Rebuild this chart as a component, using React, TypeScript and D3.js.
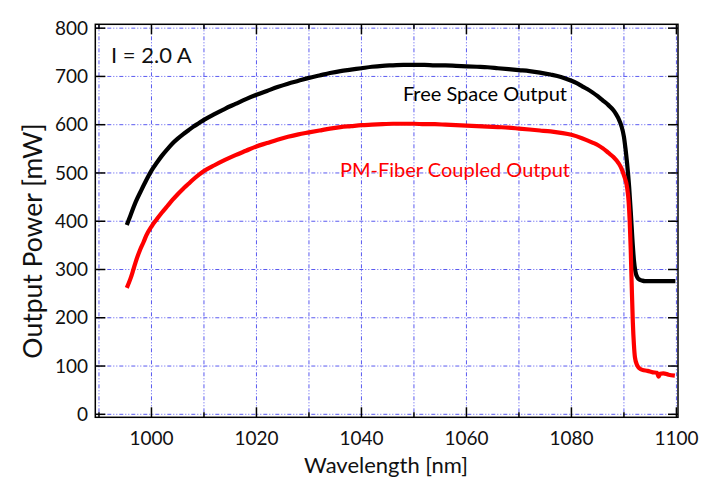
import React from "react";
import * as d3 from "d3";

const freeWl = [995.3, 996, 997, 998, 999, 1000, 1001, 1002, 1003, 1004, 1005, 1006, 1007, 1008, 1009, 1010, 1012, 1014, 1016, 1018, 1020, 1022, 1024, 1026, 1028, 1030, 1032, 1034, 1036, 1038, 1040, 1042, 1044, 1046, 1048, 1050, 1052, 1054, 1056, 1058, 1060, 1062, 1064, 1066, 1068, 1070, 1072, 1074, 1076, 1078, 1080, 1081, 1082, 1083, 1084, 1085, 1086, 1087, 1088, 1088.5, 1089, 1089.5, 1090, 1090.3, 1090.6, 1091, 1091.3, 1091.6, 1091.9, 1092.2, 1092.6, 1093, 1093.5, 1094, 1096, 1098, 1099.8];
const freePower = [392, 412, 440, 463, 485, 505, 521, 536, 549, 561, 571, 580, 588, 596, 603, 610, 622, 633, 643, 653, 662, 670, 678, 685, 691, 697, 702, 707, 711, 714, 717, 720, 722, 723, 724, 724, 724, 723, 723, 722, 721, 720, 719, 717, 715, 713, 711, 708, 704, 699, 691, 686, 680, 674, 667, 659, 650, 641, 630, 622, 612, 598, 575, 550, 520, 470, 420, 365, 320, 295, 283, 279, 277, 276, 276, 276, 276];

const fiberWl = [995.3, 996, 996.5, 997, 997.8, 998.5, 999, 1000, 1001, 1002, 1003, 1004, 1005, 1006, 1007, 1008, 1009, 1010, 1012, 1014, 1016, 1018, 1020, 1022, 1024, 1026, 1028, 1030, 1032, 1034, 1036, 1038, 1040, 1042, 1044, 1046, 1048, 1050, 1052, 1054, 1056, 1058, 1060, 1062, 1064, 1066, 1068, 1070, 1072, 1074, 1076, 1078, 1080, 1082, 1084, 1085, 1086, 1087, 1088, 1089, 1089.5, 1090, 1090.6, 1090.9, 1091.1, 1091.3, 1091.5, 1091.7, 1091.9, 1092.1, 1092.5, 1093, 1093.5, 1094.5, 1095.5, 1096.3, 1096.6, 1096.9, 1097.5, 1098.5, 1099.7];
const fiberPower = [262, 281, 298, 316, 340, 357, 370, 389, 404, 418, 431, 444, 456, 467, 477, 487, 496, 504, 516, 527, 537, 546, 555, 562, 569, 575, 580, 584, 588, 592, 595, 597, 599, 600, 601, 602, 602, 602, 601, 601, 600, 599, 598, 597, 596, 595, 594, 592, 590, 588, 586, 583, 579, 572, 563, 558, 551, 542, 533, 520, 510, 495, 470, 440, 400, 340, 260, 190, 145, 118, 102, 95, 92, 90, 87, 86, 78, 84, 85, 82, 80];

const xMajorTicks = [1000, 1020, 1040, 1060, 1080, 1100];
const xMinorTicks = [990, 1010, 1030, 1050, 1070, 1090];
const yTicks = [0, 100, 200, 300, 400, 500, 600, 700, 800];

const FONT = "Lato, 'Open Sans', sans-serif";

export default function App() {
  const W = 725, H = 492;
  const L = 95.3, R = 678, T = 24.3, B = 417.3;
  const x = d3.scaleLinear().domain([989.3, 1100.3]).range([L, R]);
  const y = d3.scaleLinear().domain([-6.2, 808]).range([B, T]);
  const line = d3.line<[number, number]>().x(d => x(d[0])).y(d => y(d[1])).curve(d3.curveMonotoneX);
  const freePts = freeWl.map((w, i) => [w, freePower[i]] as [number, number]);
  const fiberPts = fiberWl.map((w, i) => [w, fiberPower[i]] as [number, number]);
  const gridColor = "#5a5af0";
  const dash = "4,2,1,2,1,2";
  const allX = [...xMajorTicks, ...xMinorTicks];

  return (
    <svg width={W} height={H} style={{ position: "absolute", left: 0, top: 0 }} fontFamily={FONT}>
      <rect x={0} y={0} width={W} height={H} fill="#fff" />
      {allX.map(t => (
        <line key={"gx" + t} x1={x(t)} x2={x(t)} y1={T} y2={B} stroke={gridColor} strokeWidth={1} strokeDasharray={dash} />
      ))}
      {yTicks.map(t => (
        <line key={"gy" + t} x1={L} x2={R} y1={y(t)} y2={y(t)} stroke={gridColor} strokeWidth={1} strokeDasharray={dash} />
      ))}
      <path d={line(freePts) || ""} fill="none" stroke="#000" strokeWidth={4.2} strokeLinejoin="round" />
      <path d={line(fiberPts) || ""} fill="none" stroke="#ff0000" strokeWidth={4.2} strokeLinejoin="round" />
      <rect x={L} y={T} width={R - L} height={B - T} fill="none" stroke="#000" strokeWidth={1.5} />
      {xMajorTicks.map(t => (
        <g key={"xt" + t}>
          <line x1={x(t)} x2={x(t)} y1={B} y2={B - 10} stroke="#000" strokeWidth={1.5} />
          <line x1={x(t)} x2={x(t)} y1={T} y2={T + 10} stroke="#000" strokeWidth={1.5} />
          <text x={x(t)} y={445} textAnchor="middle" fontSize={19} fill="#111">{t}</text>
        </g>
      ))}
      {xMinorTicks.map(t => (
        <g key={"xm" + t}>
          <line x1={x(t)} x2={x(t)} y1={B} y2={B - 5} stroke="#000" strokeWidth={1.5} />
          <line x1={x(t)} x2={x(t)} y1={T} y2={T + 5} stroke="#000" strokeWidth={1.5} />
        </g>
      ))}
      {yTicks.map(t => (
        <g key={"yt" + t}>
          <line x1={L} x2={L + 10} y1={y(t)} y2={y(t)} stroke="#000" strokeWidth={1.5} />
          <line x1={R} x2={R - 10} y1={y(t)} y2={y(t)} stroke="#000" strokeWidth={1.5} />
          <text x={88} y={y(t)} dy="0.35em" textAnchor="end" fontSize={19} fill="#111">{t}</text>
        </g>
      ))}
      <text x={386} y={473} textAnchor="middle" fontSize={22} fill="#111">Wavelength [nm]</text>
      <text transform={`translate(42,241) rotate(-90)`} textAnchor="middle" fontSize={26.5} fill="#111">Output Power [mW]</text>
      <text x={111} y={62.5} fontSize={22} fill="#111">I = 2.0 A</text>
      <text x={567} y={101} textAnchor="end" fontSize={20} fill="#000">Free Space Output</text>
      <text x={570} y={177} textAnchor="end" fontSize={20} fill="#ff0000">PM-Fiber Coupled Output</text>
    </svg>
  );
}
